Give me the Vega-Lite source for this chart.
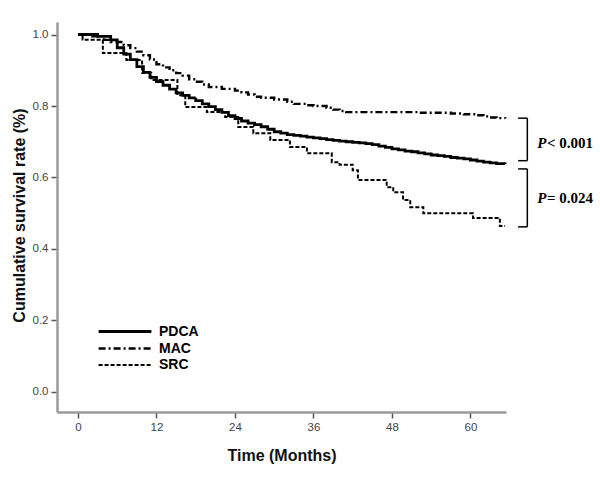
{
  "$schema": "https://vega.github.io/schema/vega-lite/v6.json",
  "width": 449,
  "height": 390,
  "autosize": "none",
  "padding": {"left": 57, "top": 22, "right": 94, "bottom": 69},
  "background": "white",
  "config": {
    "view": {"stroke": null},
    "axis": {
      "grid": false,
      "domainColor": "#9a9a9a",
      "domainWidth": 2.5,
      "tickColor": "#555555",
      "tickWidth": 1.5,
      "tickSize": 6,
      "labelFont": "Liberation Sans",
      "labelFontSize": 11.5,
      "labelColor": "#444444",
      "labelPadding": 3,
      "titleFont": "Liberation Sans",
      "titleFontSize": 16,
      "titleFontWeight": "bold",
      "titleColor": "#111111"
    }
  },
  "datasets": {
    "curves": [
      {"group": "PDCA", "time": 0, "surv": 1.0},
      {"group": "PDCA", "time": 3, "surv": 0.995},
      {"group": "PDCA", "time": 5, "surv": 0.985},
      {"group": "PDCA", "time": 6, "surv": 0.963},
      {"group": "PDCA", "time": 7, "surv": 0.945},
      {"group": "PDCA", "time": 8, "surv": 0.93},
      {"group": "PDCA", "time": 9, "surv": 0.91},
      {"group": "PDCA", "time": 10, "surv": 0.894},
      {"group": "PDCA", "time": 11, "surv": 0.88},
      {"group": "PDCA", "time": 12, "surv": 0.868},
      {"group": "PDCA", "time": 13, "surv": 0.858},
      {"group": "PDCA", "time": 14, "surv": 0.847},
      {"group": "PDCA", "time": 15, "surv": 0.837},
      {"group": "PDCA", "time": 16, "surv": 0.83},
      {"group": "PDCA", "time": 17, "surv": 0.823},
      {"group": "PDCA", "time": 18, "surv": 0.815},
      {"group": "PDCA", "time": 19, "surv": 0.806},
      {"group": "PDCA", "time": 20, "surv": 0.798},
      {"group": "PDCA", "time": 21, "surv": 0.79},
      {"group": "PDCA", "time": 22, "surv": 0.782},
      {"group": "PDCA", "time": 23, "surv": 0.773},
      {"group": "PDCA", "time": 24, "surv": 0.765},
      {"group": "PDCA", "time": 25, "surv": 0.758},
      {"group": "PDCA", "time": 26, "surv": 0.752},
      {"group": "PDCA", "time": 27, "surv": 0.748},
      {"group": "PDCA", "time": 28, "surv": 0.742},
      {"group": "PDCA", "time": 29, "surv": 0.735},
      {"group": "PDCA", "time": 30, "surv": 0.728},
      {"group": "PDCA", "time": 31, "surv": 0.724},
      {"group": "PDCA", "time": 32, "surv": 0.72},
      {"group": "PDCA", "time": 33, "surv": 0.718},
      {"group": "PDCA", "time": 34, "surv": 0.716},
      {"group": "PDCA", "time": 35, "surv": 0.713},
      {"group": "PDCA", "time": 36, "surv": 0.711},
      {"group": "PDCA", "time": 37, "surv": 0.709},
      {"group": "PDCA", "time": 38, "surv": 0.706},
      {"group": "PDCA", "time": 39, "surv": 0.704},
      {"group": "PDCA", "time": 40, "surv": 0.702},
      {"group": "PDCA", "time": 41, "surv": 0.7},
      {"group": "PDCA", "time": 42, "surv": 0.698},
      {"group": "PDCA", "time": 43, "surv": 0.697},
      {"group": "PDCA", "time": 44, "surv": 0.695},
      {"group": "PDCA", "time": 45, "surv": 0.692},
      {"group": "PDCA", "time": 46, "surv": 0.688},
      {"group": "PDCA", "time": 47, "surv": 0.684},
      {"group": "PDCA", "time": 48, "surv": 0.68},
      {"group": "PDCA", "time": 49, "surv": 0.677},
      {"group": "PDCA", "time": 50, "surv": 0.674},
      {"group": "PDCA", "time": 51, "surv": 0.672},
      {"group": "PDCA", "time": 52, "surv": 0.669},
      {"group": "PDCA", "time": 53, "surv": 0.666},
      {"group": "PDCA", "time": 54, "surv": 0.663},
      {"group": "PDCA", "time": 55, "surv": 0.661},
      {"group": "PDCA", "time": 56, "surv": 0.659},
      {"group": "PDCA", "time": 57, "surv": 0.656},
      {"group": "PDCA", "time": 58, "surv": 0.654},
      {"group": "PDCA", "time": 59, "surv": 0.652},
      {"group": "PDCA", "time": 60, "surv": 0.649},
      {"group": "PDCA", "time": 61, "surv": 0.646},
      {"group": "PDCA", "time": 62, "surv": 0.643},
      {"group": "PDCA", "time": 63, "surv": 0.641},
      {"group": "PDCA", "time": 64, "surv": 0.639},
      {"group": "PDCA", "time": 65.3, "surv": 0.638},
      {"group": "MAC", "time": 0, "surv": 1.0},
      {"group": "MAC", "time": 2, "surv": 0.995},
      {"group": "MAC", "time": 4, "surv": 0.985},
      {"group": "MAC", "time": 5, "surv": 0.979},
      {"group": "MAC", "time": 7, "surv": 0.97},
      {"group": "MAC", "time": 8, "surv": 0.962},
      {"group": "MAC", "time": 9, "surv": 0.952},
      {"group": "MAC", "time": 10, "surv": 0.942},
      {"group": "MAC", "time": 11, "surv": 0.93},
      {"group": "MAC", "time": 12, "surv": 0.917},
      {"group": "MAC", "time": 13, "surv": 0.908},
      {"group": "MAC", "time": 14, "surv": 0.9},
      {"group": "MAC", "time": 15, "surv": 0.892},
      {"group": "MAC", "time": 16, "surv": 0.885},
      {"group": "MAC", "time": 17, "surv": 0.875},
      {"group": "MAC", "time": 18, "surv": 0.868},
      {"group": "MAC", "time": 19, "surv": 0.86},
      {"group": "MAC", "time": 20, "surv": 0.853},
      {"group": "MAC", "time": 22, "surv": 0.848},
      {"group": "MAC", "time": 24, "surv": 0.843},
      {"group": "MAC", "time": 25, "surv": 0.838},
      {"group": "MAC", "time": 26, "surv": 0.832},
      {"group": "MAC", "time": 27, "surv": 0.826},
      {"group": "MAC", "time": 28, "surv": 0.823},
      {"group": "MAC", "time": 30, "surv": 0.818},
      {"group": "MAC", "time": 32, "surv": 0.812},
      {"group": "MAC", "time": 33, "surv": 0.806},
      {"group": "MAC", "time": 35, "surv": 0.802},
      {"group": "MAC", "time": 36, "surv": 0.8},
      {"group": "MAC", "time": 38, "surv": 0.795},
      {"group": "MAC", "time": 39, "surv": 0.79},
      {"group": "MAC", "time": 40, "surv": 0.786},
      {"group": "MAC", "time": 41, "surv": 0.783},
      {"group": "MAC", "time": 50, "surv": 0.783},
      {"group": "MAC", "time": 52, "surv": 0.781},
      {"group": "MAC", "time": 57, "surv": 0.779},
      {"group": "MAC", "time": 59, "surv": 0.777},
      {"group": "MAC", "time": 61, "surv": 0.774},
      {"group": "MAC", "time": 62, "surv": 0.771},
      {"group": "MAC", "time": 63, "surv": 0.768},
      {"group": "MAC", "time": 64, "surv": 0.766},
      {"group": "MAC", "time": 65.3, "surv": 0.765},
      {"group": "SRC", "time": 0, "surv": 1.0},
      {"group": "SRC", "time": 0.7, "surv": 0.985},
      {"group": "SRC", "time": 3.8, "surv": 0.948},
      {"group": "SRC", "time": 7.4, "surv": 0.929},
      {"group": "SRC", "time": 9.8, "surv": 0.892},
      {"group": "SRC", "time": 11.2, "surv": 0.873},
      {"group": "SRC", "time": 15.2, "surv": 0.83},
      {"group": "SRC", "time": 16.4, "surv": 0.797},
      {"group": "SRC", "time": 19.7, "surv": 0.783},
      {"group": "SRC", "time": 22.5, "surv": 0.769},
      {"group": "SRC", "time": 24.5, "surv": 0.741},
      {"group": "SRC", "time": 26.8, "surv": 0.724},
      {"group": "SRC", "time": 29.4, "surv": 0.705},
      {"group": "SRC", "time": 32.4, "surv": 0.685},
      {"group": "SRC", "time": 35, "surv": 0.668},
      {"group": "SRC", "time": 38.8, "surv": 0.643},
      {"group": "SRC", "time": 40, "surv": 0.636},
      {"group": "SRC", "time": 42, "surv": 0.62},
      {"group": "SRC", "time": 42.8, "surv": 0.593},
      {"group": "SRC", "time": 47.2, "surv": 0.573},
      {"group": "SRC", "time": 48.2, "surv": 0.559},
      {"group": "SRC", "time": 49.7, "surv": 0.537},
      {"group": "SRC", "time": 50.8, "surv": 0.517},
      {"group": "SRC", "time": 52.8, "surv": 0.5},
      {"group": "SRC", "time": 60.4, "surv": 0.487},
      {"group": "SRC", "time": 64.5, "surv": 0.464},
      {"group": "SRC", "time": 65.3, "surv": 0.464}
    ],
    "brackets": [
      {"x": 67.3, "x2": 68.7, "y": 0.766, "y2": 0.766},
      {"x": 68.7, "x2": 68.7, "y": 0.766, "y2": 0.647},
      {"x": 67.3, "x2": 68.7, "y": 0.647, "y2": 0.647},
      {"x": 67.3, "x2": 68.7, "y": 0.624, "y2": 0.624},
      {"x": 68.7, "x2": 68.7, "y": 0.624, "y2": 0.462},
      {"x": 67.3, "x2": 68.7, "y": 0.462, "y2": 0.462}
    ],
    "pvals": [
      {"x": 70.2, "xr": 71.7, "y": 0.697, "p": "P", "rest": "< 0.001"},
      {"x": 70.2, "xr": 71.7, "y": 0.543, "p": "P", "rest": "= 0.024"}
    ]
  },
  "layer": [
    {
      "data": {"name": "curves"},
      "mark": {"type": "line", "interpolate": "step-after", "color": "black"},
      "encoding": {
        "x": {
          "field": "time", "type": "quantitative",
          "scale": {"domain": [-3.21, 65.44], "nice": false, "zero": false},
          "axis": {"values": [0, 12, 24, 36, 48, 60], "title": "Time (Months)", "titlePadding": 15}
        },
        "y": {
          "field": "surv", "type": "quantitative",
          "scale": {"domain": [-0.056, 1.035], "nice": false, "zero": false},
          "axis": {"values": [0, 0.2, 0.4, 0.6, 0.8, 1.0], "format": ".1f", "title": "Cumulative survival rate (%)", "titleX": -38, "titleY": 193, "titleAlign": "center", "titleBaseline": "middle", "titleAngle": 270}
        },
        "strokeDash": {
          "field": "group", "type": "nominal",
          "scale": {"domain": ["PDCA", "MAC", "SRC"], "range": [[1, 0], [7, 3, 2, 3], [4, 2]]},
          "legend": {
            "title": null, "orient": "none", "legendX": 58.5, "legendY": 300,
            "rowPadding": 0,
            "symbolType": "M-3.3,0H3.3", "symbolSize": 256, "symbolStrokeColor": "black", "symbolStrokeWidth": 2.2,
            "labelFont": "Liberation Sans", "labelFontSize": 14, "labelFontWeight": "bold", "labelColor": "black", "labelOffset": 24.5
          }
        },
        "strokeWidth": {
          "field": "group", "type": "nominal",
          "scale": {"domain": ["PDCA", "MAC", "SRC"], "range": [2.8, 2, 2]},
          "legend": null
        }
      }
    },
    {
      "data": {"name": "brackets"},
      "mark": {"type": "rule", "color": "black", "strokeWidth": 1.5},
      "encoding": {
        "x": {"field": "x", "type": "quantitative"},
        "x2": {"field": "x2"},
        "y": {"field": "y", "type": "quantitative"},
        "y2": {"field": "y2"}
      }
    },
    {
      "data": {"name": "pvals"},
      "mark": {"type": "text", "align": "left", "baseline": "middle", "font": "Liberation Serif", "fontSize": 15, "fontWeight": "bold", "fontStyle": "italic", "color": "black"},
      "encoding": {
        "x": {"field": "x", "type": "quantitative"},
        "y": {"field": "y", "type": "quantitative"},
        "text": {"field": "p"}
      }
    },
    {
      "data": {"name": "pvals"},
      "mark": {"type": "text", "align": "left", "baseline": "middle", "font": "Liberation Serif", "fontSize": 15, "fontWeight": "bold", "color": "black"},
      "encoding": {
        "x": {"field": "xr", "type": "quantitative"},
        "y": {"field": "y", "type": "quantitative"},
        "text": {"field": "rest"}
      }
    }
  ]
}
